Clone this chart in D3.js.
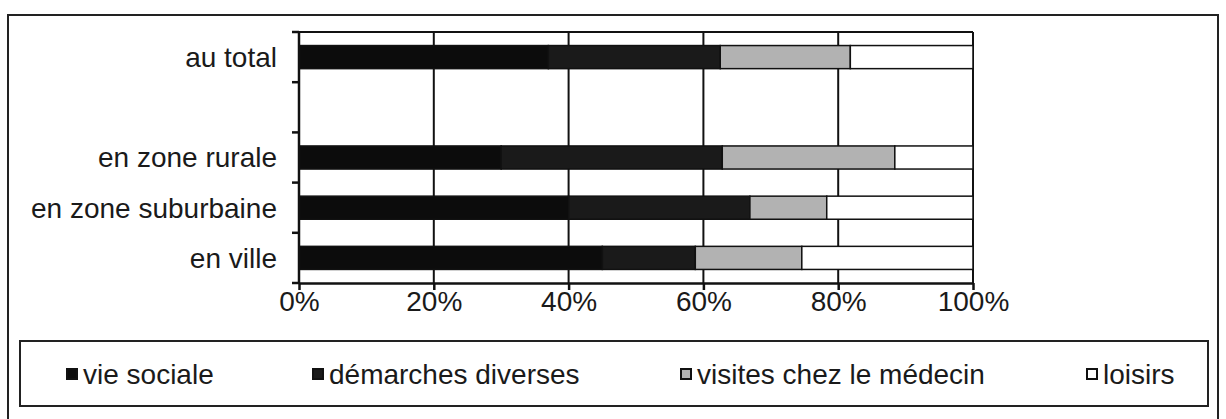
<!DOCTYPE html>
<html>
<head>
<meta charset="utf-8">
<script src="https://cdn.jsdelivr.net/npm/d3@7"></script>
<style>
  body { margin: 0; background: #fff; }
  text { font-family: "Liberation Sans", Arial, sans-serif; fill: #1a1a1a; }
</style>
</head>
<body>
<script>
// categories, top to bottom ("" is the empty row under "au total")
var categories = ["au total", "en zone rurale", "en zone suburbaine", "en ville"];
var rows = ["au total", "", "en zone rurale", "en zone suburbaine", "en ville"];

var seriesNames = ["vie sociale", "démarches diverses", "visites chez le médecin", "loisirs"];
var vieSociale = [37, 30, 40, 45];
var demarches = [25.5, 32.8, 26.9, 13.8];
var medecin = [19.3, 25.6, 11.4, 15.8];
var loisirs = [18.2, 11.6, 21.7, 25.4];

var tickValues = [0, 0.2, 0.4, 0.6, 0.8, 1];

var colours = ["#0c0c0c", "#1a1a1a", "#b2b2b2", "#ffffff"];

var W = 1226, H = 419;
var plot = {left: 299, right: 973, top: 32, bottom: 283};
var fontSize = 28;

var svg = d3.select("body").append("svg")
  .attr("width", W)
  .attr("height", H);

// outer frame
svg.append("rect")
  .attr("x", 8).attr("y", 15)
  .attr("width", 1210).attr("height", 430)
  .attr("fill", "none")
  .attr("stroke", "#222")
  .attr("stroke-width", 2);

var table = categories.map(function(c, i) {
  return {
    cat: c,
    "vie sociale": vieSociale[i],
    "démarches diverses": demarches[i],
    "visites chez le médecin": medecin[i],
    "loisirs": loisirs[i]
  };
});

var stacked = d3.stack()
  .keys(seriesNames)
  .offset(d3.stackOffsetExpand)(table);

var x = d3.scaleLinear()
  .domain([0, 1])
  .range([plot.left, plot.right]);

var y = d3.scaleBand()
  .domain(rows)
  .range([plot.top, plot.bottom])
  .paddingInner(0.54)
  .paddingOuter(0.27);

// vertical gridlines
svg.append("g")
  .selectAll("line")
  .data(tickValues.slice(1))
  .enter()
    .append("line")
      .attr("x1", function(d) { return x(d); })
      .attr("x2", function(d) { return x(d); })
      .attr("y1", plot.top)
      .attr("y2", plot.bottom)
      .attr("stroke", "#111")
      .attr("stroke-width", 2);

// top border of the plot area
svg.append("line")
  .attr("x1", plot.left).attr("x2", plot.right)
  .attr("y1", plot.top).attr("y2", plot.top)
  .attr("stroke", "#111")
  .attr("stroke-width", 2);

// bars
svg.append("g")
  .selectAll("g")
  .data(stacked)
  .enter()
    .append("g")
      .attr("fill", function(d, i) { return colours[i]; })
    .selectAll("rect")
    .data(function(d) { return d; })
    .enter()
      .append("rect")
        .attr("x", function(d) { return x(d[0]); })
        .attr("width", function(d) { return x(d[1]) - x(d[0]); })
        .attr("y", function(d) { return y(d.data.cat); })
        .attr("height", y.bandwidth())
        .attr("stroke", "#111")
        .attr("stroke-width", 1.5);

// add the x Axis
var xAxis = svg.append("g")
  .attr("transform", "translate(0," + plot.bottom + ")")
  .call(d3.axisBottom(x)
    .tickValues(tickValues)
    .tickFormat(d3.format(".0%"))
    .tickSize(7)
    .tickSizeOuter(0)
    .tickPadding(1));
xAxis.select(".domain").attr("stroke", "#111").attr("stroke-width", 2.5);
xAxis.selectAll(".tick line").attr("stroke", "#111").attr("stroke-width", 2.5);
xAxis.selectAll(".tick text")
  .attr("font-size", fontSize)
  .attr("font-family", "Liberation Sans, Arial, sans-serif")
  .attr("fill", "#1a1a1a");

// add the y Axis (ticks between the rows)
var step = y.step();
var yTicks = d3.range(rows.length + 1).map(function(i) { return plot.top + i * step; });

svg.append("line")
  .attr("x1", plot.left).attr("x2", plot.left)
  .attr("y1", plot.top).attr("y2", plot.bottom)
  .attr("stroke", "#111")
  .attr("stroke-width", 2.5);

svg.append("g")
  .selectAll("line")
  .data(yTicks)
  .enter()
    .append("line")
      .attr("x1", plot.left - 7)
      .attr("x2", plot.left)
      .attr("y1", function(d) { return d; })
      .attr("y2", function(d) { return d; })
      .attr("stroke", "#111")
      .attr("stroke-width", 2.5);

svg.append("g")
  .selectAll("text")
  .data(categories)
  .enter()
    .append("text")
      .attr("x", 277)
      .attr("y", function(d) { return y(d) + y.bandwidth() / 2; })
      .attr("dy", "0.35em")
      .attr("text-anchor", "end")
      .attr("font-size", fontSize)
      .text(function(d) { return d; });

// legend
svg.append("rect")
  .attr("x", 20).attr("y", 341)
  .attr("width", 1188).attr("height", 65)
  .attr("fill", "#fff")
  .attr("stroke", "#222")
  .attr("stroke-width", 2);

var legendX = [72, 318, 686, 1092];

var legend = svg.append("g")
  .selectAll("g")
  .data(seriesNames)
  .enter()
    .append("g")
      .attr("transform", function(d, i) { return "translate(" + legendX[i] + ",374)"; });

legend.append("rect")
  .attr("x", -5).attr("y", -5)
  .attr("width", 10).attr("height", 10)
  .attr("fill", function(d, i) { return colours[i]; })
  .attr("stroke", "#111")
  .attr("stroke-width", 2);

legend.append("text")
  .attr("x", 11)
  .attr("dy", "0.35em")
  .attr("font-size", fontSize)
  .text(function(d) { return d; });
</script>
</body>
</html>
